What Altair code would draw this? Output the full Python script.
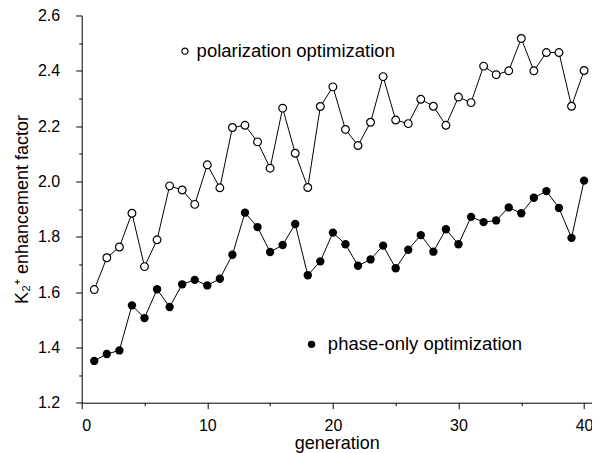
import altair as alt
import pandas as pd

generations = list(range(1, 41))
polarization = [1.609, 1.724, 1.763, 1.885, 1.692, 1.789, 1.984, 1.969, 1.917, 2.060,
                1.977, 2.195, 2.203, 2.143, 2.048, 2.265, 2.102, 1.978, 2.271, 2.342,
                2.188, 2.130, 2.214, 2.379, 2.222, 2.209, 2.297, 2.272, 2.203, 2.305,
                2.285, 2.417, 2.386, 2.400, 2.517, 2.400, 2.466, 2.466, 2.272, 2.401]
phase_only = [1.351, 1.376, 1.389, 1.552, 1.506, 1.610, 1.546, 1.628, 1.644, 1.624,
              1.648, 1.735, 1.887, 1.835, 1.745, 1.770, 1.846, 1.661, 1.711, 1.815,
              1.773, 1.695, 1.718, 1.768, 1.686, 1.753, 1.806, 1.746, 1.827, 1.773,
              1.872, 1.853, 1.859, 1.906, 1.885, 1.941, 1.965, 1.904, 1.796, 2.003]

label_names = ["polarization optimization", "phase-only optimization"]
label_marker_x = [8.22, 18.3]
label_text_x = [9.15, 19.6]
label_y = [2.471, 1.411]

x_ticks = list(range(0, 41, 5))
y_ticks = [round(1.2 + 0.1 * i, 1) for i in range(15)]

pol_df = pd.DataFrame({"gen": generations, "val": polarization})
ph_df = pd.DataFrame({"gen": generations, "val": phase_only})
lab_df = pd.DataFrame({"name": label_names, "mx": label_marker_x, "tx": label_text_x, "y": label_y})

xscale = alt.Scale(domain=[0, 40.63], nice=False, zero=False)
yscale = alt.Scale(domain=[1.2, 2.6], nice=False, zero=False)

xaxis = alt.Axis(
    values=x_ticks, title="generation",
    labelExpr="datum.value % 10 === 0 ? datum.label : ''",
    tickSize={"condition": {"test": "datum.value % 10 === 0", "value": 6}, "value": 3},
    labelPadding=9, titlePadding=1, grid=False,
)
yaxis = alt.Axis(
    values=y_ticks, title="K₂⁺ enhancement factor",
    labelExpr="abs(datum.value*5 - round(datum.value*5)) < 0.001 ? format(datum.value, '.1f') : ''",
    tickSize={"condition": {"test": "abs(datum.value*5 - round(datum.value*5)) < 0.001", "value": 6}, "value": 3},
    labelPadding=16, titlePadding=6, grid=False,
)

x = alt.X("gen:Q", scale=xscale, axis=xaxis)
y = alt.Y("val:Q", scale=yscale, axis=yaxis)

pol_line = alt.Chart(pol_df).mark_line(color="black", strokeWidth=1).encode(x=x, y=y)
pol_pts = alt.Chart(pol_df).mark_circle(size=60, color="white", stroke="black", strokeWidth=1.2, opacity=1).encode(x=x, y=y)
ph_line = alt.Chart(ph_df).mark_line(color="black", strokeWidth=1).encode(x=x, y=y)
ph_pts = alt.Chart(ph_df).mark_circle(size=70, color="black", opacity=1).encode(x=x, y=y)

lab_pol = lab_df.iloc[[0]]
lab_ph = lab_df.iloc[[1]]
lx = lambda f: alt.X(f"{f}:Q", scale=xscale, axis=xaxis)
ly = alt.Y("y:Q", scale=yscale, axis=yaxis)

m1 = alt.Chart(lab_pol).mark_circle(size=38, color="white", stroke="black", strokeWidth=1.2, opacity=1).encode(x=lx("mx"), y=ly)
m2 = alt.Chart(lab_ph).mark_circle(size=55, color="black", opacity=1).encode(x=lx("mx"), y=ly)
texts = alt.Chart(lab_df).mark_text(align="left", baseline="middle", fontSize=18.5, color="black").encode(
    x=lx("tx"), y=ly, text="name:N")

chart = alt.layer(pol_line, ph_line, pol_pts, ph_pts, m1, m2, texts).properties(
    width=510.3, height=387.2,
    autosize=alt.AutoSizeParams(type="none"),
    padding={"left": 73.7, "top": 7.5, "right": 0, "bottom": 50},
    background="white",
).configure(font="Liberation Sans").configure_axis(
    domainColor="black", tickColor="black", labelColor="black", titleColor="black",
    labelFontSize=16, titleFontSize=18, titleFontWeight="normal", labelFont="Liberation Sans",
    titleFont="Liberation Sans", domainWidth=1, tickWidth=1,
).configure_view(stroke=None)

chart.save("out.html", embed_options={"renderer": "svg", "actions": False})
